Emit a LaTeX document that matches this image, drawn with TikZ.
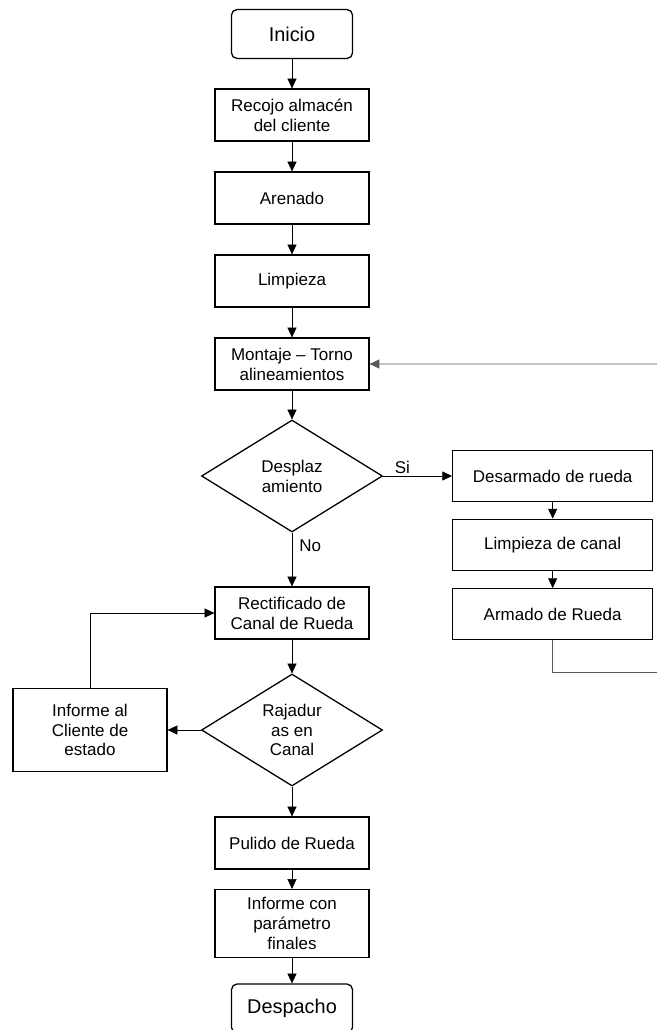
\documentclass[tikz,border=0pt]{standalone}
\usepackage{xcolor}
\usepackage{fontspec}
\setmainfont{Liberation Sans}
\usepackage{tikz}
\usetikzlibrary{shapes.geometric,arrows.meta}

\begin{document}
\begin{tikzpicture}[scale=1.0,>={Triangle[length=2.9mm,width=2.7mm]},node distance=2.49cm]
      \tikzset{term/.style={rectangle,draw,line width=1.1pt,rounded corners=.9ex,minimum width=3.63cm,minimum height=1.47cm,font=\fontsize{17}{20}\selectfont}}
      \tikzset{proc/.style={rectangle,draw,line width=1.1pt,minimum width=4.62cm,minimum height=1.56cm,align=center,font=\fontsize{14.5}{17}\selectfont}}
      \tikzset{wide/.style={proc,minimum width=6cm,minimum height=1.53cm}}
      \tikzset{decide/.style={diamond,draw,line width=1.1pt,minimum width=5.43cm,minimum height=3.36cm,inner sep=0pt,align=center,font=\fontsize{14.5}{17}\selectfont}}
      \tikzset{back/.style={draw=gray!70!black,line width=.8pt}}
      \tikzset{lab/.style={font=\fontsize{14.5}{17}\selectfont}}

      \useasboundingbox (0,0) rectangle (19.71,-30.9);
      \clip (0,0) rectangle (19.71,-30.9);

      \node[term] (ini) at (8.76,-1.02) {Inicio};
      \node[proc] (recojo) [below of=ini,yshift=0.06cm] {Recojo almacén\\del cliente};
      \node[proc] (arena) [below of=recojo] {Arenado};
      \node[proc] (limp) [below of=arena] {Limpieza};
      \node[proc] (mont) [below of=limp] {Montaje -- Torno\\alineamientos};
      \node[decide] (desp) [below of=mont,yshift=-0.87cm] {Desplaz\\amiento};
      \node[proc] (rect) [below of=desp,yshift=-1.62cm] {Rectificado de\\Canal de Rueda};
      \node[decide] (raja) [below of=rect,yshift=-1.02cm] {Rajadur\\as en\\Canal};
      \node[proc] (pul) [below of=raja,yshift=-0.9cm] {Pulido de Rueda};
      \node[proc,minimum height=2.04cm] (infp) [below of=pul,yshift=0.075cm] {Informe con\\parámetro\\finales};
      \node[term] (fin) [below of=infp,yshift=-0.06cm] {Despacho};

      \node[wide] (desar) [right of=desp,xshift=5.33cm] {Desarmado de rueda};
      \node[wide] (lcan) [below of=desar,yshift=0.43cm] {Limpieza de canal};
      \node[wide] (arma) [below of=lcan,yshift=0.405cm] {Armado de Rueda};

      \node[proc,minimum height=2.49cm] (infc) [left of=raja,xshift=-3.57cm] {Informe al\\Cliente de\\estado};

      \coordinate (edget) at (19.71,-10.92);
      \coordinate (edgeb) at (19.71,-20.16);

      \draw[->] (ini) -- (recojo);
      \draw[->] (recojo) -- (arena);
      \draw[->] (arena) -- (limp);
      \draw[->] (limp) -- (mont);
      \draw[->] (mont) -- (desp);
      \draw[->] (desp) -- node[lab,right,pos=0.25,xshift=1mm] {No} (rect);
      \draw[->] (desp) -- node[lab,above,pos=0.28,yshift=-0.5mm] {Si} (desar);
      \draw[->] (desar) -- (lcan);
      \draw[->] (lcan) -- (arma);
      \draw[back] (arma.south) |- (edgeb);
      \draw[back,->] (edget) -- (mont.east);

      \draw[->] (rect) -- (raja);
      \draw[->] (raja) -- (infc);
      \draw[->] (infc.north) |- (rect.west);
      \draw[->] (raja) -- (pul);
      \draw[->] (pul) -- (infp);
      \draw[->] (infp) -- (fin);

\end{tikzpicture}
\end{document}
